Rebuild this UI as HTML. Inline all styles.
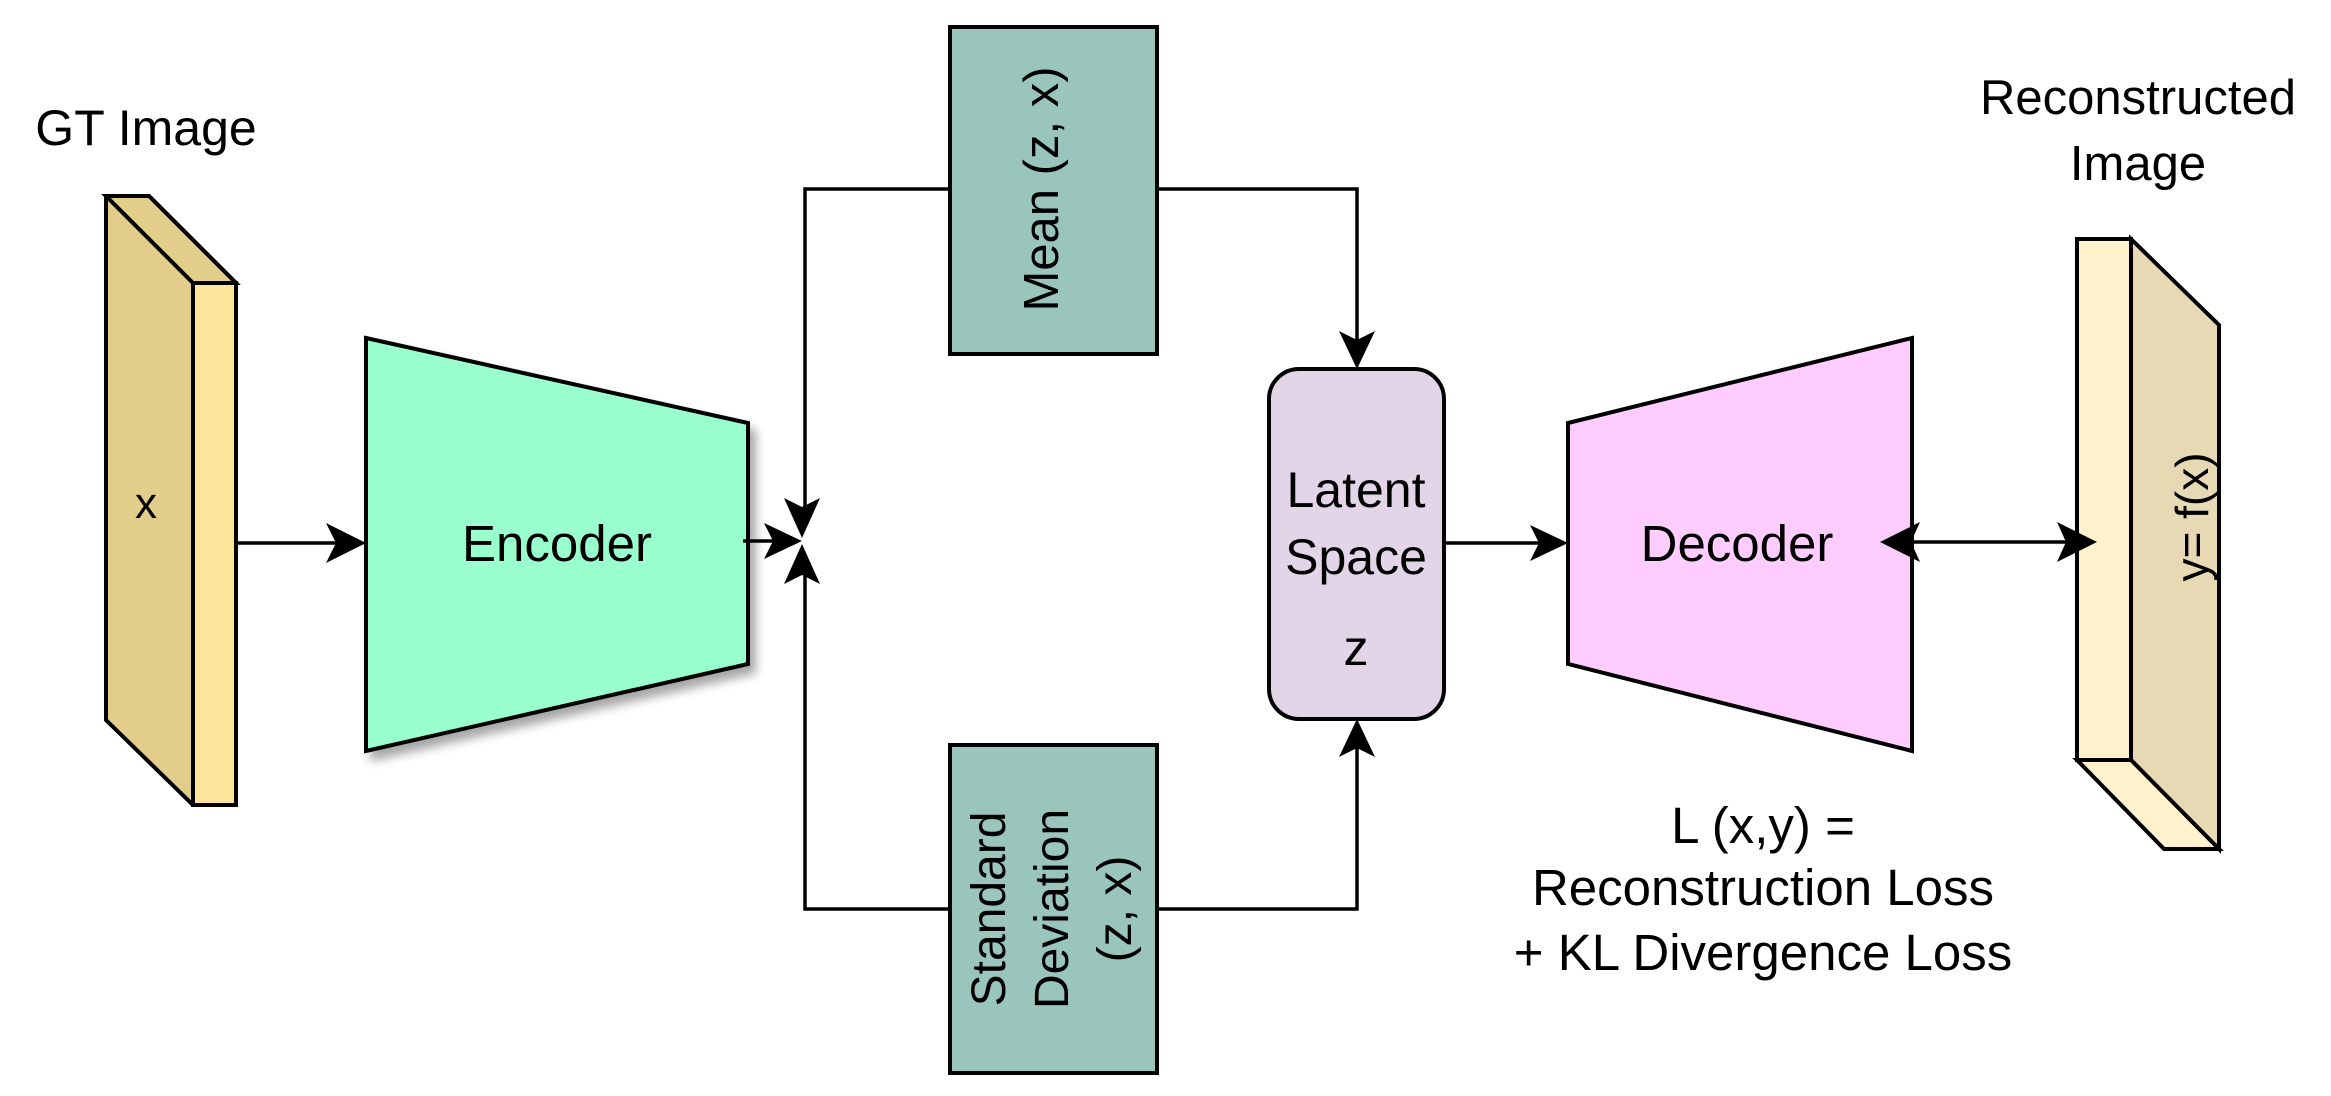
<!DOCTYPE html>
<html><head><meta charset="utf-8"><style>
html,body{margin:0;padding:0;background:#fff;}
svg{display:block;}
text{font-family:"Liberation Sans",Arial,sans-serif;fill:#000;}
</style></head><body>
<svg width="2331" height="1096" viewBox="0 0 2331 1096" xmlns="http://www.w3.org/2000/svg">
<defs>
<filter id="sh" x="-10%" y="-10%" width="130%" height="130%">
<feGaussianBlur in="SourceAlpha" stdDeviation="5"/>
<feOffset dx="6" dy="8"/>
<feComponentTransfer><feFuncA type="linear" slope="0.35"/></feComponentTransfer>
<feMerge><feMergeNode/><feMergeNode in="SourceGraphic"/></feMerge>
</filter>
</defs>
<g stroke="#000" stroke-width="4" stroke-linejoin="miter">
<polygon points="106,196 149,196 236,283 236,805 193,805 106,720" fill="#e3cd8b"/>
<polygon points="106,196 149,196 236,283 193,283" fill="#e3cd8b"/>
<rect x="193" y="283" width="43" height="522" fill="#fde49b"/>
<polygon points="366,338 748,423 748,664 366,751" fill="#99ffcc" filter="url(#sh)"/>
<rect x="950" y="27" width="207" height="327" fill="#9ac5bd"/>
<rect x="950" y="745" width="207" height="328" fill="#9ac5bd"/>
<rect x="1269" y="369" width="175" height="350" rx="30" fill="#e1d5e7"/>
<polygon points="1568,423 1912,338 1912,751 1568,664" fill="#ffccff"/>
<polygon points="2131,239 2219,325 2219,849 2131,760" fill="#e6d9b3"/>
<polygon points="2077,760 2131,760 2219,849 2164,849" fill="#fff2cc"/>
<rect x="2077" y="239" width="54" height="521" fill="#fff2cc"/>
</g>
<g stroke="#000" stroke-width="3.5" fill="none">
<line x1="236" y1="543" x2="340" y2="543"/>
<line x1="743" y1="541" x2="780" y2="541"/>
<polyline points="950,189 805,189 805,515"/>
<polyline points="950,909 805,909 805,566"/>
<polyline points="1157,189 1357,189 1357,345"/>
<polyline points="1157,909 1357,909 1357,743"/>
<line x1="1444" y1="543" x2="1545" y2="543"/>
<line x1="1905" y1="542" x2="2072" y2="542"/>
</g>
<g fill="#000">
<path d="M366,543 L326,523 L336,543 L326,563 Z"/>
<path d="M802,541 L764,523 L773,541 L764,559 Z"/>
<path d="M802,538 L784,498 L802,507 L820,498 Z"/>
<path d="M802,544 L784,584 L802,575 L820,584 Z"/>
<path d="M1357,369 L1339,331 L1357,340 L1375,331 Z"/>
<path d="M1357,719 L1339,757 L1357,748 L1375,757 Z"/>
<path d="M1568,543 L1530,525 L1539,543 L1530,561 Z"/>
<path d="M1880,542 L1920,522 L1911,542 L1920,562 Z"/>
<path d="M2097,542 L2057,522 L2066,542 L2057,562 Z"/>
</g>
<text x="146" y="145" font-size="50" text-anchor="middle">GT Image</text>
<text x="146" y="518" font-size="44" text-anchor="middle">x</text>
<text x="557" y="561" font-size="51" text-anchor="middle">Encoder</text>
<text transform="translate(1058,189) rotate(-90)" font-size="49" text-anchor="middle">Mean (z, x)</text>
<text transform="translate(1005,909) rotate(-90)" font-size="48" text-anchor="middle">Standard</text>
<text transform="translate(1068,909) rotate(-90)" font-size="48" text-anchor="middle">Deviation</text>
<text transform="translate(1131,909) rotate(-90)" font-size="48" text-anchor="middle">(z, x)</text>
<text x="1356" y="507" font-size="50" text-anchor="middle">Latent</text>
<text x="1356" y="574" font-size="50" text-anchor="middle">Space</text>
<text x="1356" y="665" font-size="50" text-anchor="middle">z</text>
<text x="1737" y="561" font-size="51" text-anchor="middle">Decoder</text>
<text transform="translate(2208,517) rotate(-90)" font-size="46" text-anchor="middle">y= f(x)</text>
<text x="2138" y="114" font-size="49" text-anchor="middle">Reconstructed</text>
<text x="2138" y="180" font-size="49" text-anchor="middle">Image</text>
<text x="1763" y="843" font-size="51" text-anchor="middle">L (x,y) =</text>
<text x="1763" y="905" font-size="51" text-anchor="middle">Reconstruction Loss</text>
<text x="1763" y="970" font-size="51" text-anchor="middle">+ KL Divergence Loss</text>
</svg>
</body></html>
